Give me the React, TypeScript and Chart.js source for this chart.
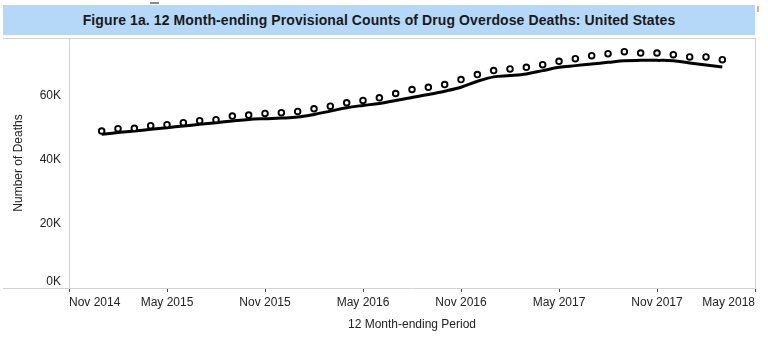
import React, { useEffect, useRef } from 'react';
import { Chart, registerables } from 'chart.js';

Chart.register(...registerables);

const titleText = 'Figure 1a. 12 Month-ending Provisional Counts of Drug Overdose Deaths: United States';
const xAxisTitle = '12 Month-ending Period';
const yAxisTitle = 'Number of Deaths';

const months = [
  'Nov 2014', 'Dec 2014',
  'Jan 2015', 'Feb 2015', 'Mar 2015', 'Apr 2015', 'May 2015', 'Jun 2015', 'Jul 2015', 'Aug 2015', 'Sep 2015', 'Oct 2015', 'Nov 2015', 'Dec 2015',
  'Jan 2016', 'Feb 2016', 'Mar 2016', 'Apr 2016', 'May 2016', 'Jun 2016', 'Jul 2016', 'Aug 2016', 'Sep 2016', 'Oct 2016', 'Nov 2016', 'Dec 2016',
  'Jan 2017', 'Feb 2017', 'Mar 2017', 'Apr 2017', 'May 2017', 'Jun 2017', 'Jul 2017', 'Aug 2017', 'Sep 2017', 'Oct 2017', 'Nov 2017', 'Dec 2017',
  'Jan 2018', 'Feb 2018', 'Mar 2018', 'Apr 2018', 'May 2018',
];

const tickLabels = ['Nov 2014', 'May 2015', 'Nov 2015', 'May 2016', 'Nov 2016', 'May 2017', 'Nov 2017', 'May 2018'];

const firstDataMonth = 'Jan 2015';

// Predicted provisional counts (circles), Jan 2015 – Mar 2018
const predicted = [
  48980, 49720, 49810, 50650, 50960, 51580, 52200, 52520, 53630, 53940, 54470, 54690,
  55090, 55930, 56740, 57800, 58510, 59350, 60680, 61930, 62640, 63480, 65030, 66580,
  67830, 68350, 68850, 69690, 70710, 71550, 72480, 73100, 73730, 73320, 73320, 72800,
  72080, 72080, 71240,
];

// Reported provisional counts (line), Jan 2015 – Mar 2018
const reported = [
  47950, 48480, 49000, 49500, 50000, 50560, 51060, 51580, 52110, 52600, 52830, 53010,
  53320, 54160, 55190, 56240, 56960, 57580, 58510, 59440, 60370, 61400, 62640, 64500,
  65870, 66270, 66800, 67830, 68850, 69380, 69910, 70400, 70930, 71020, 71020, 70930,
  70220, 69600, 68980,
];

const yTicks = [0, 20000, 40000, 60000];
const yMax = 78000;

const FONT = "Arial, 'Liberation Sans', Helvetica, sans-serif";
const fmtK = (v: number) => `${v / 1000}K`;

const framePlugin = {
  id: 'frame',
  afterDraw(chart: any) {
    const { ctx, chartArea } = chart;
    ctx.save();
    ctx.strokeStyle = '#d3d3d3';
    ctx.lineWidth = 1;
    ctx.beginPath();
    ctx.moveTo(3, chartArea.top + 0.5);
    ctx.lineTo(chartArea.right + 0.5, chartArea.top + 0.5);
    ctx.moveTo(chartArea.right + 0.5, chartArea.top);
    ctx.lineTo(chartArea.right + 0.5, chartArea.bottom);
    ctx.moveTo(3, chartArea.bottom + 0.5);
    ctx.lineTo(chartArea.left, chartArea.bottom + 0.5);
    ctx.stroke();
    // bottom tick label is pushed up inside the pane
    const yScale = chart.scales.y;
    ctx.fillStyle = '#222222';
    ctx.font = `12px ${FONT}`;
    ctx.textAlign = 'right';
    ctx.textBaseline = 'bottom';
    ctx.fillText(fmtK(yTicks[0]), yScale.right - 8, yScale.getPixelForValue(yTicks[0]) - 0.5);
    ctx.restore();
  },
};

export default function App() {
  const canvasRef = useRef<HTMLCanvasElement | null>(null);

  useEffect(() => {
    const canvas = canvasRef.current;
    if (!canvas) return;
    const start = months.indexOf(firstDataMonth);
    const pad = (arr: number[]) => months.map((_, i) => {
      const v = arr[i - start];
      return v === undefined ? null : v;
    });

    const chart = new Chart(canvas, {
      type: 'line',
      data: {
        labels: months,
        datasets: [
          {
            label: 'Predicted',
            data: pad(predicted),
            showLine: false,
            pointRadius: 2.8,
            pointBorderWidth: 1.9,
            pointBackgroundColor: '#ffffff',
            pointBorderColor: '#000000',
            borderColor: '#000000',
            backgroundColor: '#ffffff',
            order: 0,
          },
          {
            label: 'Reported',
            data: pad(reported),
            borderColor: '#000000',
            borderWidth: 3,
            pointRadius: 0,
            tension: 0.35,
            fill: false,
            order: 1,
          },
        ],
      },
      options: {
        responsive: false,
        animation: false,
        layout: { padding: { top: 38, right: 13, left: 0, bottom: 0 } },
        plugins: {
          legend: { display: false },
          tooltip: { enabled: false },
          title: { display: false },
        },
        scales: {
          x: {
            type: 'category',
            offset: false,
            afterFit: (scale: any) => { scale.height = 68; },
            afterBuildTicks: (scale: any) => {
              scale.ticks = scale.ticks.filter((t: any) => tickLabels.includes(months[t.value]));
            },
            grid: {
              display: true,
              drawOnChartArea: false,
              drawTicks: true,
              tickLength: 4,
              color: '#444444',
              lineWidth: 1,
            },
            border: { display: true, color: '#d3d3d3', width: 1 },
            ticks: {
              autoSkip: false,
              maxRotation: 0,
              minRotation: 0,
              align: 'inner',
              padding: 3,
              color: '#222222',
              font: { family: FONT, size: 12 },
              callback: (value: any) => months[value as number],
            },
            title: {
              display: true,
              text: xAxisTitle,
              color: '#222222',
              font: { family: FONT, size: 12 },
              padding: { top: 0, bottom: 24 },
            },
          },
          y: {
            type: 'linear',
            min: 0,
            max: yMax,
            afterFit: (scale: any) => { scale.width = 69; },
            afterBuildTicks: (scale: any) => {
              scale.ticks = yTicks.map((v) => ({ value: v }));
            },
            grid: { display: false, drawTicks: false },
            border: { display: true, color: '#d3d3d3', width: 1 },
            ticks: {
              padding: 8,
              color: '#222222',
              font: { family: FONT, size: 12 },
              callback: (value: any) => (Number(value) === yTicks[0] ? '' : fmtK(Number(value))),
            },
            title: {
              display: true,
              text: yAxisTitle,
              color: '#222222',
              font: { family: FONT, size: 12 },
              padding: { top: 11, bottom: 0 },
            },
          },
        },
      },
      plugins: [framePlugin],
    } as any);

    return () => chart.destroy();
  }, []);

  return (
    <div style={{ position: 'fixed', left: 0, top: 0, width: 768, height: 356, background: '#ffffff', overflow: 'hidden' }}>
      <canvas ref={canvasRef} width={768} height={356} style={{ position: 'absolute', left: 0, top: 0, width: 768, height: 356, display: 'block' }} />
      <div
        style={{
          position: 'absolute',
          left: 3,
          top: 5,
          width: 752,
          height: 30,
          background: '#b5d8f8',
          color: '#1a1a1a',
          fontFamily: FONT,
          fontWeight: 'bold',
          fontSize: 14,
          letterSpacing: '0.1px',
          lineHeight: '30px',
          textAlign: 'center',
          whiteSpace: 'nowrap',
        }}
      >
        {titleText}
      </div>
      <div style={{ position: 'absolute', left: 150, top: 2, width: 9, height: 2, background: '#8a8a8a' }} />
      <div style={{ position: 'absolute', left: 757, top: 6, width: 2, height: 6, background: '#d8b878' }} />
    </div>
  );
}
